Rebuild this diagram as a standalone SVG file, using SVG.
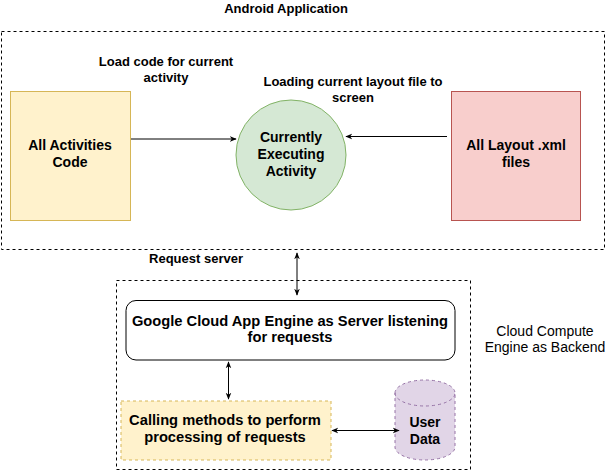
<svg xmlns="http://www.w3.org/2000/svg" width="611" height="471" viewBox="0 0 611 471">
<defs>
<marker id="ah" viewBox="0 0 10 10" refX="9" refY="5" markerWidth="7" markerHeight="7" orient="auto-start-reverse" markerUnits="userSpaceOnUse">
<path d="M0,1 L10,5 L0,9 L3,5 Z" fill="#000"/>
</marker>
<style>
text{font-family:"Liberation Sans",Arial,Helvetica,sans-serif;fill:#000;text-anchor:middle}
.lbl{font-size:13px;font-weight:bold}
.nd{font-size:14px;font-weight:bold}
.nw{font-size:14.7px;font-weight:bold}
.dash{fill:none;stroke:#000;stroke-dasharray:3 3}
.cn{fill:none;stroke:#000;stroke-width:1;marker-end:url(#ah)}
.cn2{fill:none;stroke:#000;stroke-width:1;marker-end:url(#ah);marker-start:url(#ah)}
</style>
</defs>
<rect width="611" height="471" fill="#fff"/>
<g id="android-app">
<rect class="dash" x="1.5" y="31.5" width="603" height="218"/>
<text class="lbl" x="286" y="13">Android Application</text>
</g>
<g id="backend">
<rect class="dash" x="116.5" y="280.5" width="354" height="189"/>
<text x="545" y="336" style="font-size:14px">Cloud Compute</text>
<text x="545" y="352" style="font-size:14px">Engine as Backend</text>
</g>
<g id="activities">
<rect x="10.5" y="91.5" width="120" height="129" fill="#fff2cc" stroke="#d6b656"/>
<text class="nd" x="70" y="150">All Activities</text>
<text class="nd" x="70" y="167">Code</text>
</g>
<g id="current-activity">
<ellipse cx="291" cy="155" rx="55" ry="55" fill="#d5e8d4" stroke="#82b366"/>
<text class="nd" x="291" y="142">Currently</text>
<text class="nd" x="291" y="159">Executing</text>
<text class="nd" x="291" y="176">Activity</text>
</g>
<g id="layouts">
<rect x="451.5" y="91.5" width="129" height="129" fill="#f8cecc" stroke="#b85450"/>
<text class="nd" x="516" y="150">All Layout .xml</text>
<text class="nd" x="516" y="167">files</text>
</g>
<g id="app-engine">
<rect x="126" y="300.5" width="329" height="59.5" rx="10" fill="#fff" stroke="#000"/>
<text class="nw" x="290" y="326">Google Cloud App Engine as Server listening</text>
<text class="nw" x="290" y="342">for requests</text>
</g>
<g id="methods">
<rect x="121" y="401" width="210" height="59" fill="#fff2cc" stroke="#d6b656" stroke-dasharray="3 3"/>
<text class="nw" x="225" y="425">Calling methods to perform</text>
<text class="nw" x="225" y="442">processing of requests</text>
</g>
<g id="user-data">
<path d="M395,393 A30,13 0 0 1 455,393 L455,447 A30,13 0 0 1 395,447 Z" fill="#e1d5e7" stroke="#9673a6" stroke-dasharray="3 3"/>
<path d="M395,393 A30,13 0 0 0 455,393" fill="none" stroke="#9673a6" stroke-dasharray="3 3"/>
<text class="nd" x="425" y="427">User</text>
<text class="nd" x="425" y="444">Data</text>
</g>
<g id="labels">
<text class="lbl" x="166" y="66">Load code for current</text>
<text class="lbl" x="166" y="82">activity</text>
<text class="lbl" x="353" y="86">Loading current layout file to</text>
<text class="lbl" x="353" y="102">screen</text>
<text class="lbl" x="196" y="263">Request server</text>
</g>
<g id="connectors">
<path class="cn" d="M131,139 L236,139"/>
<path class="cn" d="M447,136.5 L346,136.5"/>
<path class="cn2" d="M297,253 L297,295"/>
<path class="cn2" d="M228.5,362 L228.5,399"/>
<path class="cn2" d="M332,430.5 L399,430.5"/>
</g>
</svg>
